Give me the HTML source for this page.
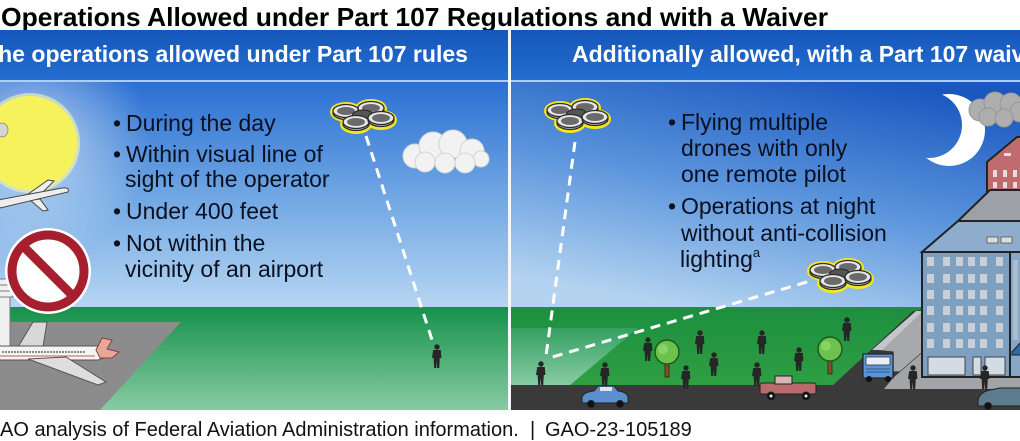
<!DOCTYPE html>
<html><head><meta charset="utf-8"><style>
html,body{margin:0;padding:0;background:#fff;}
svg{display:block;}
text{font-family:"Liberation Sans",Arial,sans-serif;}
</style></head><body>
<svg width="1020" height="441" viewBox="0 0 1020 441" xmlns="http://www.w3.org/2000/svg">
<defs>
<linearGradient id="hdr" x1="0" y1="0" x2="0" y2="1"><stop offset="0" stop-color="#1656bb"/><stop offset="1" stop-color="#236fd0"/></linearGradient>
<linearGradient id="skyL" x1="0" y1="0" x2="0" y2="1"><stop offset="0" stop-color="#2a6fd3"/><stop offset="0.5" stop-color="#6fa6e3"/><stop offset="1" stop-color="#b6d6f2"/></linearGradient>
<linearGradient id="skyR" x1="0.75" y1="0" x2="0.35" y2="1"><stop offset="0" stop-color="#1a57bf"/><stop offset="0.5" stop-color="#5a94dc"/><stop offset="1" stop-color="#b3d3f0"/></linearGradient>
<radialGradient id="glow" cx="30" cy="143" r="120" gradientUnits="userSpaceOnUse"><stop offset="0" stop-color="#ffffff" stop-opacity="0.6"/><stop offset="1" stop-color="#ffffff" stop-opacity="0"/></radialGradient>
<linearGradient id="grass" x1="0" y1="0" x2="0" y2="1"><stop offset="0" stop-color="#15914a"/><stop offset="1" stop-color="#88cba3"/></linearGradient>
<linearGradient id="field" x1="0" y1="0" x2="0" y2="1"><stop offset="0" stop-color="#1c8f40"/><stop offset="1" stop-color="#2f9f42"/></linearGradient>
<mask id="moonM"><rect x="900" y="80" width="120" height="120" fill="#000"/><circle cx="949" cy="130" r="36" fill="#fff"/><circle cx="929" cy="125" r="33" fill="#000"/></mask>
<g id="rotor"><ellipse cx="0" cy="2" rx="13" ry="6.5" fill="#bdbdbd" stroke="#2b2b2b" stroke-width="1.3"/><ellipse cx="0" cy="0" rx="13" ry="6.5" fill="#e6e6e6" stroke="#2b2b2b" stroke-width="1.3"/><ellipse cx="0" cy="0" rx="9" ry="4" fill="#6a6a6a"/></g>
<g id="drone">
 <g fill="#f3e61e" stroke="#f3e61e" stroke-width="6"><ellipse cx="-17" cy="-3" rx="13" ry="7"/><ellipse cx="8" cy="-6" rx="13" ry="7"/><ellipse cx="-7" cy="9" rx="13" ry="7"/><ellipse cx="18" cy="5" rx="13" ry="7"/><ellipse cx="0" cy="1" rx="12" ry="7"/></g>
 <use href="#rotor" x="-17" y="-4"/><use href="#rotor" x="8" y="-7"/>
 <ellipse cx="0" cy="1" rx="11" ry="6" fill="#555" stroke="#222" stroke-width="1"/>
 <use href="#rotor" x="-7" y="7"/><use href="#rotor" x="18" y="3"/>
</g>
<g id="p" fill="#262626"><circle cx="0" cy="-15" r="2.7"/><path d="M-3.8,-12 h7.6 l0.6,8 h-1.6 l-0.6,10 h-2 l-0.5,-7 -0.5,7 h-2 l-0.6,-10 h-1.6z"/></g>
<g id="tree"><rect x="-2" y="2" width="4" height="20" fill="#8a4a2c" stroke="#3a2010" stroke-width="0.8"/><circle cx="0" cy="-3" r="12" fill="#6cc24c" stroke="#1e5a1e" stroke-width="1.5"/><circle cx="-4" cy="-6" r="5" fill="#86d466"/></g>
</defs>

<rect width="1020" height="441" fill="#fff"/>

<!-- Title -->
<text x="1" y="26" font-size="26" font-weight="bold" fill="#000" textLength="827" lengthAdjust="spacingAndGlyphs">Operations Allowed under Part 107 Regulations and with a Waiver</text>

<!-- LEFT PANEL -->
<rect x="0" y="30" width="508" height="51" fill="url(#hdr)"/>
<rect x="0" y="82" width="508" height="226" fill="url(#skyL)"/>
<rect x="0" y="82" width="508" height="226" fill="url(#glow)"/>
<rect x="0" y="80" width="508" height="2" fill="#a9d0f5"/>
<text x="-16" y="62" font-size="23" font-weight="bold" fill="#fff" textLength="484" lengthAdjust="spacingAndGlyphs">The operations allowed under Part 107 rules</text>

<!-- sun -->
<circle cx="30" cy="143" r="50" fill="#fbf9b0" opacity="0.6"/>
<circle cx="30" cy="143" r="47" fill="#f6f25c"/>
<ellipse cx="2" cy="130" rx="6" ry="7" fill="#d4d4d4" stroke="#888" stroke-width="0.8"/>
<!-- sky plane -->
<g stroke="#444" stroke-width="1" fill="#eeeeee">
<polygon points="24,197 48,180 54,181 38,197"/>
<polygon points="30,200 43,211 48,210 40,199"/>
<path d="M-2,200 L62,188 Q70,187 68,192 L0,208 Z"/>
</g>

<!-- clouds left -->
<g fill="#f2f2f2" stroke="#d4d4d4" stroke-width="1">
<circle cx="415" cy="156" r="12"/><circle cx="433" cy="146" r="14"/><circle cx="453" cy="144" r="14"/><circle cx="472" cy="151" r="12"/><circle cx="481" cy="159" r="8"/>
<circle cx="425" cy="162" r="10"/><circle cx="445" cy="163" r="10"/><circle cx="465" cy="163" r="10"/>
</g>

<!-- ground left -->
<rect x="0" y="307" width="508" height="103" fill="url(#grass)"/>
<polygon points="0,322 181,322 100,410 0,410" fill="#8c8c8c"/>

<!-- tower -->
<g stroke="#777" stroke-width="1" fill="#f0f0f0">
<rect x="-2" y="292" width="12" height="54"/>
<rect x="-2" y="279" width="15" height="18"/>
<line x1="-2" y1="285" x2="13" y2="285"/><line x1="-2" y1="291" x2="13" y2="291"/>
</g>
<!-- no sign -->
<circle cx="48" cy="271" r="43" fill="#fff"/>
<circle cx="48" cy="271" r="36" fill="none" stroke="#a61f2e" stroke-width="9"/>
<line x1="23" y1="246" x2="73" y2="296" stroke="#a61f2e" stroke-width="9"/>

<!-- ground plane -->
<g stroke="#555" stroke-width="1">
<polygon points="18,347 33,322 47,322 43,347" fill="#d8d8d8"/>
<path d="M-2,346 L98,346 Q112,350 110,356 L98,360 L-2,360 Z" fill="#f4f4f4"/>
<polygon points="28,359 66,357 106,382 98,385" fill="#dedede"/>
<polygon points="96,350 102,338 112,340 107,349 119,352 112,358 100,358" fill="#e8a898" stroke="#8a4040"/>
</g>
<line x1="2" y1="352" x2="86" y2="352" stroke="#666" stroke-width="1.5" stroke-dasharray="2 1"/>
<line x1="0" y1="356" x2="95" y2="356" stroke="#c45a5a" stroke-width="1"/>

<!-- left text -->
<g font-size="23" fill="#0b1020">
<text x="113" y="131">•</text><text x="126" y="131">During the day</text>
<text x="113" y="162">•</text><text x="126" y="162">Within visual line of</text>
<text x="125" y="187">sight of the operator</text>
<text x="113" y="219">•</text><text x="126" y="219">Under 400 feet</text>
<text x="113" y="251">•</text><text x="126" y="251">Not within the</text>
<text x="125" y="277">vicinity of an airport</text>
</g>

<!-- left drone and line -->
<line x1="366" y1="136" x2="434" y2="346" stroke="#fff" stroke-width="3" stroke-dasharray="10 7"/>
<use href="#drone" x="363" y="115"/>
<use href="#p" x="437" y="362"/>

<!-- separator -->
<rect x="508" y="30" width="3" height="380" fill="#f4f8fc"/>

<!-- RIGHT PANEL -->
<rect x="511" y="30" width="509" height="51" fill="url(#hdr)"/>
<rect x="511" y="82" width="509" height="226" fill="url(#skyR)"/>
<rect x="511" y="80" width="509" height="2" fill="#a9d0f5"/>
<text x="572" y="62" font-size="23" font-weight="bold" fill="#fff">Additionally allowed, with a Part 107 waiver</text>

<!-- moon -->
<rect x="900" y="80" width="120" height="120" fill="#ffffff" mask="url(#moonM)"/>
<!-- gray cloud -->
<g fill="#aeaeae" stroke="#969696" stroke-width="1">
<circle cx="980" cy="110" r="11"/><circle cx="995" cy="103" r="11"/><circle cx="1011" cy="104" r="11"/><circle cx="1020" cy="112" r="10"/>
<circle cx="988" cy="117" r="9"/><circle cx="1004" cy="118" r="9"/>
</g>

<!-- ground right -->
<rect x="511" y="307" width="509" height="78" fill="url(#grass)"/>
<polygon points="570,385 638,328 511,328 511,307 1020,307 1020,385" fill="url(#field)"/>
<polygon points="511,385 1020,385 1020,410 511,410" fill="#3a3a3a"/>
<polygon points="832,386 913,311 930,311 930,386" fill="#3a3a3a"/>

<!-- right text -->
<g font-size="23" fill="#0b1020">
<text x="668" y="130">•</text><text x="681" y="130">Flying multiple</text>
<text x="681" y="156">drones with only</text>
<text x="681" y="182">one remote pilot</text>
<text x="668" y="214">•</text><text x="681" y="214">Operations at night</text>
<text x="681" y="241">without anti-collision</text>
<text x="680" y="267">lighting<tspan font-size="13" dy="-10">a</tspan></text>
</g>

<!-- dashed lines right -->
<line x1="575" y1="142" x2="546" y2="356" stroke="#fff" stroke-width="3" stroke-dasharray="10 7"/>
<line x1="807" y1="282" x2="549" y2="358" stroke="#fff" stroke-width="3" stroke-dasharray="10 7"/>
<use href="#drone" x="577" y="114"/>
<use href="#drone" x="840" y="274"/>

<!-- people -->
<use href="#p" x="541" y="379"/>
<use href="#p" x="605" y="380"/>
<use href="#p" x="648" y="355"/>
<use href="#p" x="686" y="383"/>
<use href="#p" x="700" y="348"/>
<use href="#p" x="714" y="370"/>
<use href="#p" x="757" y="380"/>
<use href="#p" x="762" y="348"/>
<use href="#p" x="799" y="365"/>
<use href="#p" x="847" y="335"/>

<!-- trees -->
<use href="#tree" x="667" y="355"/>
<use href="#tree" x="830" y="352"/>

<!-- trailer -->
<polygon points="872,350 916,311 923,311 923,352 900,372 893,372 893,352" fill="#a8a9ad" stroke="#333" stroke-width="1.2"/>
<polygon points="872,350 916,311 923,311 882,350" fill="#c4c6ca"/>
<!-- sidewalk -->
<polygon points="884,389 1020,389 1020,376 923,376 923,352 893,378" fill="#a3a4a7"/>
<!-- truck cab -->
<rect x="863" y="354" width="30" height="24" fill="#5b95d5" stroke="#222" stroke-width="1.2"/>
<rect x="866" y="357" width="24" height="8" fill="#e8eef6" stroke="#333" stroke-width="0.8"/>
<line x1="866" y1="369" x2="890" y2="369" stroke="#2c5a90" stroke-width="1"/>
<line x1="866" y1="372" x2="890" y2="372" stroke="#2c5a90" stroke-width="1"/>
<circle cx="869" cy="379" r="3" fill="#111"/><circle cx="888" cy="379" r="3" fill="#111"/>
<use href="#p" x="913" y="383"/>

<!-- buildings -->
<g stroke="#222" stroke-width="2">
<polygon points="987,162 1017,137 1022,137 1022,192 987,192" fill="#c06b6d"/>
<polygon points="958,221 990,190 1022,190 1022,221" fill="#9da1a7"/>
<polygon points="922,252 958,221 1022,221 1022,252" fill="#8eaccb"/>
<rect x="922" y="252" width="88" height="125" fill="#7f9fc1"/>
<rect x="1010" y="252" width="12" height="125" fill="#89a6c4"/>
</g>
<g fill="#e6dede"><rect x="993" y="170" width="4" height="7"/><rect x="1003" y="170" width="4" height="7"/><rect x="1013" y="170" width="4" height="7"/><rect x="993" y="182" width="4" height="6"/><rect x="1003" y="182" width="4" height="6"/><rect x="1013" y="182" width="4" height="6"/><rect x="1004" y="153" width="7" height="3"/></g>
<g fill="#dcdcdc" stroke="#555" stroke-width="0.8"><rect x="987" y="237" width="11" height="6"/><rect x="1001" y="237" width="11" height="6"/></g>
<g fill="#c9cfd8">
<rect x="927" y="257" width="7" height="9"/><rect x="943" y="257" width="7" height="9"/><rect x="956" y="257" width="7" height="9"/><rect x="968" y="257" width="7" height="9"/><rect x="980" y="257" width="7" height="9"/><rect x="996" y="257" width="7" height="9"/>
<rect x="927" y="274" width="7" height="9"/><rect x="943" y="274" width="7" height="9"/><rect x="956" y="274" width="7" height="9"/><rect x="968" y="274" width="7" height="9"/><rect x="980" y="274" width="7" height="9"/><rect x="996" y="274" width="7" height="9"/>
<rect x="927" y="290" width="7" height="9"/><rect x="943" y="290" width="7" height="9"/><rect x="956" y="290" width="7" height="9"/><rect x="968" y="290" width="7" height="9"/><rect x="980" y="290" width="7" height="9"/><rect x="996" y="290" width="7" height="9"/>
<rect x="927" y="306" width="7" height="9"/><rect x="943" y="306" width="7" height="9"/><rect x="956" y="306" width="7" height="9"/><rect x="968" y="306" width="7" height="9"/><rect x="980" y="306" width="7" height="9"/><rect x="996" y="306" width="7" height="9"/>
<rect x="927" y="323" width="7" height="9"/><rect x="943" y="323" width="7" height="9"/><rect x="956" y="323" width="7" height="9"/><rect x="968" y="323" width="7" height="9"/><rect x="980" y="323" width="7" height="9"/><rect x="996" y="323" width="7" height="9"/>
<rect x="927" y="339" width="7" height="9"/><rect x="943" y="339" width="7" height="9"/><rect x="956" y="339" width="7" height="9"/><rect x="968" y="339" width="7" height="9"/><rect x="980" y="339" width="7" height="9"/><rect x="996" y="339" width="7" height="9"/>
<rect x="1013" y="260" width="5" height="80" fill="#a9bcd0"/>
</g>
<g fill="#d3dbe4" stroke="#444" stroke-width="1">
<rect x="928" y="357" width="37" height="18"/><rect x="973" y="357" width="8" height="18"/><rect x="985" y="357" width="20" height="18"/>
</g>
<polygon points="1012,352 1020,343 1022,343 1022,355 1012,355" fill="#2f6aa0" stroke="#222" stroke-width="1"/>
<use href="#p" x="985" y="383"/>

<!-- cars -->
<g stroke="#222" stroke-width="1">
<path d="M582,397 Q584,392 594,391 L598,386 L614,386 L618,391 Q627,392 628,397 L628,403 L582,403 Z" fill="#5a8fd0"/>
<rect x="600" y="387" width="12" height="4" fill="#dbe6f2" stroke="none"/>
<circle cx="591" cy="404" r="3.5" fill="#111"/><circle cx="620" cy="404" r="3.5" fill="#111"/>
<rect x="760" y="383" width="56" height="11" rx="2" fill="#b96a6c"/>
<rect x="775" y="376" width="17" height="8" fill="#d9b6b6"/>
<circle cx="771" cy="396" r="4" fill="#111"/><circle cx="806" cy="396" r="4" fill="#111"/>
<path d="M978,400 Q980,392 990,390 L1000,388 L1022,388 L1022,406 L978,406 Z" fill="#5d7b8e"/>
<circle cx="988" cy="406" r="3.5" fill="#111"/>
</g>
<g fill="#eee"><circle cx="771" cy="396" r="1.5"/><circle cx="806" cy="396" r="1.5"/></g>

<!-- caption -->
<g font-size="20" fill="#111">
<text x="0" y="436">AO analysis of Federal Aviation Administration information.</text>
<text x="530" y="436">|</text>
<text x="545" y="436">GAO-23-105189</text>
</g>
</svg>
</body></html>
